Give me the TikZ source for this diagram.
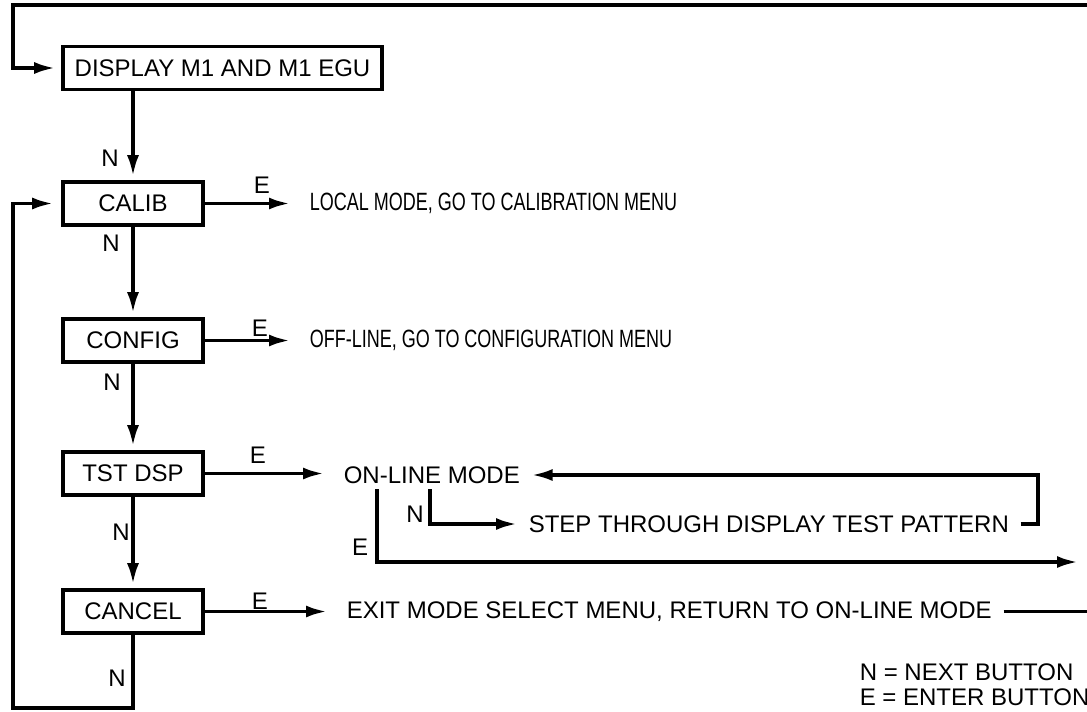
\documentclass[tikz,border=0pt]{standalone}
\usepackage{fontspec}
\setmainfont{Liberation Sans}
\newfontfamily\narrowfont{Liberation Sans}[FakeStretch=0.72]
\usetikzlibrary{arrows.meta}
\tikzset{ box/.style = { rectangle % menu entry
        , draw
        , line width = 1.8pt
        , minimum width = 70pt
        , minimum height = 21.5pt
        , inner sep = 2pt
        }
        , msg/.style = { rectangle % result text
        , inner xsep = 5pt
        , inner ysep = 0pt
        }
        , key/.style = { rectangle % button letter
        , inner sep = 0pt
        }
        }

\begin{document}
\begin{tikzpicture}[x=0.5pt, y=-0.5pt, line width=1.8pt, font=\fontsize{12}{12.5}\selectfont,
        edge_style/.style={draw=black, line width=1.8pt, -{Latex[length=10.5pt,width=6pt]}},
        line_style/.style={draw=black, line width=1.8pt},
        text_arrow/.style={edge_style, shorten >=4pt},
        box_arrow/.style={edge_style, shorten >=2pt}]
        \useasboundingbox (0,0) rectangle (1087,712);

        % menu entries
        \node [box, minimum width=159.5pt](disp) at (222.5,68) {DISPLAY M1 AND M1 EGU};
        \node [box](calib) at (133,203.5) {CALIB};
        \node [box](config) at (133,340.5) {CONFIG};
        \node [box](tstdsp) at (133,473.5) {TST DSP};
        \node [box](cancel) at (133,611.5) {CANCEL};

        % results
        \node [msg, anchor=west, font=\fontsize{12.5}{13}\narrowfont](local) at (298,203.5) {LOCAL MODE, GO TO CALIBRATION MENU};
        \node [msg, anchor=west, font=\fontsize{12.5}{13}\narrowfont](offline) at (298,340.5) {OFF-LINE, GO TO CONFIGURATION MENU};
        \node [msg, anchor=west](online) at (332,475) {ON-LINE MODE};
        \node [msg, anchor=west](step) at (517,524) {STEP THROUGH DISPLAY TEST PATTERN};
        \node [msg, anchor=west](exit) at (335,611.5) {EXIT MODE SELECT MENU, RETURN TO ON-LINE MODE};

        % button letters
        \node [key](n1) at (110,158) {N};
        \node [key](n2) at (111,243) {N};
        \node [key](n3) at (112,382) {N};
        \node [key](n4) at (121,532) {N};
        \node [key](n5) at (117,678) {N};
        \node [key](n6) at (415,514) {N};
        \node [key](e1) at (262,185) {E};
        \node [key](e2) at (260,328) {E};
        \node [key](e3) at (258,455) {E};
        \node [key](e4) at (260,601) {E};
        \node [key](e5) at (360,547) {E};
        \node [key, anchor=north west, align=left, font=\fontsize{12}{12.5}\selectfont](legend) at (858,662) {N = NEXT BUTTON\\E = ENTER BUTTON};

        \coordinate (topout) at (1087,5);
        \coordinate (tl) at (13,5);
        \coordinate (bl) at (13,708);
        \coordinate (nsplit) at (430,489);
        \coordinate (esplit) at (377,489);
        \coordinate (eout) at (1078,562);
        \coordinate (ret) at (1038,475);
        \coordinate (exitout) at (1087,611.5);

        \draw [box_arrow, shorten >=3pt] (topout) -- (tl) |- (disp.west);
        \draw [box_arrow] (disp.south -| calib.north) -- (calib.north);
        \draw [box_arrow] (calib.south) -- (config.north);
        \draw [box_arrow] (config.south) -- (tstdsp.north);
        \draw [box_arrow] (tstdsp.south) -- (cancel.north);
        \draw [box_arrow, shorten >=4pt] (cancel.south) |- (bl) |- (calib.west);

        \draw [text_arrow] (calib.east) -- (calib.east -| local.west);
        \draw [text_arrow] (config.east) -- (config.east -| offline.west);
        \draw [text_arrow] (tstdsp.east) -- (tstdsp.east -| online.west);
        \draw [text_arrow] (cancel.east) -- (cancel.east -| exit.west);

        \draw [edge_style] (nsplit) |- (step.west);
        \draw [edge_style] (esplit) |- (eout);
        \draw [edge_style] (step.east) -| (ret) -- (online.east);
        \draw [line_style] (exit.east) -- (exitout);
\end{tikzpicture}
\end{document}
